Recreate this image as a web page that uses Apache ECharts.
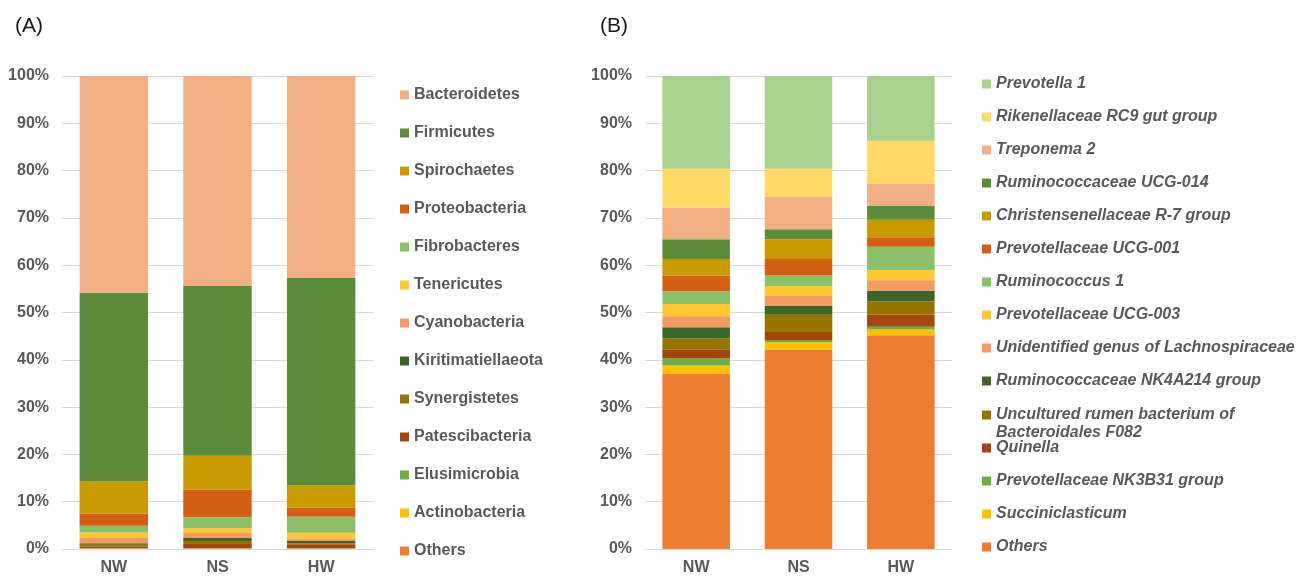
<!DOCTYPE html>
<html>
<head>
<meta charset="utf-8">
<title>Relative abundance of rumen microbiota</title>
<script src="https://cdn.jsdelivr.net/npm/echarts@6/dist/echarts.min.js"></script>
<style>
  html, body { margin: 0; padding: 0; background: #fff; }
  #chart { width: 1309px; height: 576px; }
</style>
</head>
<body>
<div id="chart"></div>
<script>
// Groups on the x axis
const groups = ['NW', 'NS', 'HW'];
const yTicks = [0, 10, 20, 30, 40, 50, 60, 70, 80, 90, 100];

// (A) phylum level, relative abundance (%) for NW, NS, HW
const bacteroidetes      = [45.8, 44.4, 42.7];
const firmicutes         = [39.9, 35.9, 43.8];
const spirochaetes       = [6.8, 7.1, 4.8];
const proteobacteria     = [2.6, 5.9, 1.9];
const fibrobacteres      = [1.4, 2.3, 3.35];
const tenericutes        = [1.2, 1.0, 1.25];
const cyanobacteria      = [1.1, 1.1, 0.5];
const kiritimatiellaeota = [0.3, 0.6, 0.5];
const synergistetes      = [0.4, 0.65, 0.2];
const patescibacteria    = [0.3, 0.9, 0.85];
const elusimicrobia      = [0.05, 0.05, 0.05];
const actinobacteria     = [0.05, 0.05, 0.05];
const othersPhylum       = [0.1, 0.05, 0.05];

// (B) genus level, relative abundance (%) for NW, NS, HW
const prevotella1     = [19.6, 19.6, 13.7];
const rikenellaceae   = [8.2, 6.0, 9.1];
const treponema2      = [6.7, 6.8, 4.6];
const rumUCG014       = [4.2, 2.1, 3.0];
const christensenR7   = [3.5, 4.2, 3.7];
const prevUCG001      = [3.3, 3.5, 2.0];
const ruminococcus1   = [2.7, 2.2, 4.9];
const prevUCG003      = [2.6, 2.1, 2.2];
const lachnoUnident   = [2.3, 2.1, 2.2];
const rumNK4A214      = [2.4, 1.9, 2.3];
const bacteroidalesF082 = [2.4, 3.6, 2.8];
const quinella        = [1.8, 1.7, 2.5];
const prevNK3B31      = [1.5, 0.5, 0.6];
const succiniclasticum = [1.7, 1.5, 1.2];
const othersGenus     = [37.1, 42.2, 45.2];

const F082_NAME = 'Uncultured rumen bacterium of\nBacteroidales F082';

// [name, values, colour] listed from the bottom of the stack upward
const phylumStack = [
  ['Others', othersPhylum, '#ED7D31'],
  ['Actinobacteria', actinobacteria, '#FFC000'],
  ['Elusimicrobia', elusimicrobia, '#70AD47'],
  ['Patescibacteria', patescibacteria, '#A0460E'],
  ['Synergistetes', synergistetes, '#977300'],
  ['Kiritimatiellaeota', kiritimatiellaeota, '#3D652A'],
  ['Cyanobacteria', cyanobacteria, '#F29B62'],
  ['Tenericutes', tenericutes, '#FFC832'],
  ['Fibrobacteres', fibrobacteres, '#8CC068'],
  ['Proteobacteria', proteobacteria, '#D25F14'],
  ['Spirochaetes', spirochaetes, '#C99A00'],
  ['Firmicutes', firmicutes, '#5B8B3B'],
  ['Bacteroidetes', bacteroidetes, '#F3B084']
];

const genusStack = [
  ['Others', othersGenus, '#ED7D31'],
  ['Succiniclasticum', succiniclasticum, '#FFC000'],
  ['Prevotellaceae NK3B31 group', prevNK3B31, '#70AD47'],
  ['Quinella', quinella, '#A0460E'],
  [F082_NAME, bacteroidalesF082, '#977300'],
  ['Ruminococcaceae NK4A214 group', rumNK4A214, '#3D652A'],
  ['Unidentified genus of Lachnospiraceae', lachnoUnident, '#F29B62'],
  ['Prevotellaceae UCG-003', prevUCG003, '#FFC832'],
  ['Ruminococcus 1', ruminococcus1, '#8CC068'],
  ['Prevotellaceae UCG-001', prevUCG001, '#D25F14'],
  ['Christensenellaceae R-7 group', christensenR7, '#C99A00'],
  ['Ruminococcaceae UCG-014', rumUCG014, '#5B8B3B'],
  ['Treponema 2', treponema2, '#F3B084'],
  ['Rikenellaceae RC9 gut group', rikenellaceae, '#FFD966'],
  ['Prevotella 1', prevotella1, '#A9D18E']
];

const GREY = '#595959';
const FONT = 'Liberation Sans, Arial, sans-serif';

function makeSeries(stack, axisIndex, stackId) {
  return stack.map(([name, values, color]) => ({
    name: name,
    type: 'bar',
    stack: stackId,
    xAxisIndex: axisIndex,
    yAxisIndex: axisIndex,
    barWidth: '66%',
    itemStyle: { color: color },
    emphasis: { disabled: true },
    data: values
  }));
}

function xAxisFor(gridIndex) {
  return {
    type: 'category',
    gridIndex: gridIndex,
    data: groups,
    axisTick: { show: false },
    axisLine: { show: true, lineStyle: { color: '#D9D9D9', width: 1 } },
    axisLabel: { color: GREY, fontSize: 16, fontWeight: 'bold', fontFamily: FONT, margin: 11 }
  };
}

function yAxisFor(gridIndex) {
  return {
    type: 'value',
    gridIndex: gridIndex,
    min: yTicks[0],
    max: yTicks[yTicks.length - 1],
    interval: yTicks[1] - yTicks[0],
    axisLine: { show: false },
    axisTick: { show: false },
    splitLine: { lineStyle: { color: '#D9D9D9', width: 1 } },
    axisLabel: {
      color: GREY, fontSize: 16, fontWeight: 'bold', fontFamily: FONT, margin: 13,
      formatter: '{value}%'
    }
  };
}

const legendText = { color: GREY, fontSize: 16, fontWeight: 'bold', fontFamily: FONT, lineHeight: 18 };
const italicText = Object.assign({}, legendText, { fontStyle: 'italic' });
const legendBase = {
  orient: 'vertical',
  itemWidth: 9, itemHeight: 9, itemGap: 15,
  icon: 'rect', selectedMode: false
};

// Legend entries top to bottom
const phylumLegend = phylumStack.map(s => s[0]).reverse();
const genusNames = genusStack.map(s => s[0]).reverse();
const genusLegendTop = genusNames.slice(0, 10);
const genusLegendBottom = genusNames.slice(11).map(n => (
  n === 'Others' ? { name: n, textStyle: Object.assign({}, legendText) } : { name: n }
));

const option = {
  backgroundColor: '#ffffff',
  animation: false,
  textStyle: { fontFamily: FONT },
  title: [
    { text: '(A)', left: 10, top: 11, textStyle: { fontSize: 21, fontWeight: 'normal', color: '#1a1a1a', fontFamily: FONT } },
    { text: '(B)', left: 595, top: 11, textStyle: { fontSize: 21, fontWeight: 'normal', color: '#1a1a1a', fontFamily: FONT } }
  ],
  grid: [
    { left: 62, right: 936, top: 76, bottom: 27 },
    { left: 645, right: 357, top: 76, bottom: 27 }
  ],
  xAxis: [xAxisFor(0), xAxisFor(1)],
  yAxis: [yAxisFor(0), yAxisFor(1)],
  legend: [
    Object.assign({}, legendBase, {
      left: 395, top: 81, itemGap: 20,
      data: phylumLegend,
      textStyle: legendText
    }),
    Object.assign({}, legendBase, {
      left: 977, top: 70,
      data: genusLegendTop,
      textStyle: italicText
    }),
    // two-line entry: marker sits on the first line of its label
    Object.assign({}, legendBase, {
      left: 977, top: 383,
      data: [F082_NAME],
      formatter: name => '\n' + name,
      textStyle: italicText
    }),
    Object.assign({}, legendBase, {
      left: 977, top: 434,
      data: genusLegendBottom,
      textStyle: italicText
    })
  ],
  series: makeSeries(phylumStack, 0, 'phylum').concat(makeSeries(genusStack, 1, 'genus'))
};

const chart = echarts.init(document.getElementById('chart'), null, { renderer: 'canvas' });
chart.setOption(option);
</script>
</body>
</html>
